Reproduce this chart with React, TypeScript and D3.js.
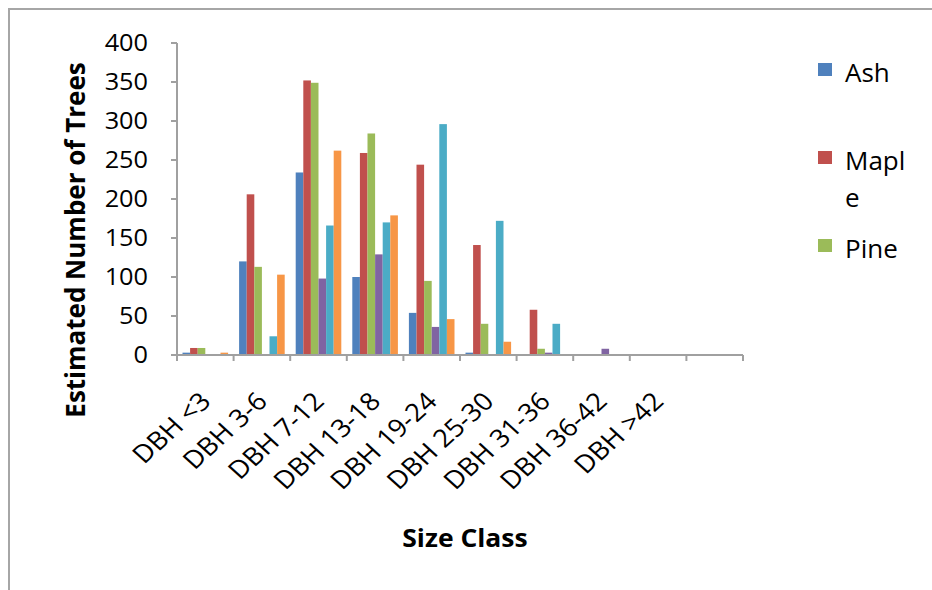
import React from "react";
import * as d3 from "d3";

const categories = ["DBH <3", "DBH 3-6", "DBH 7-12", "DBH 13-18", "DBH 19-24", "DBH 25-30", "DBH 31-36", "DBH 36-42", "DBH >42", ""];
const seriesNames = ["Ash", "Maple", "Pine", "Series 4", "Series 5", "Series 6"];
const ash = [3, 120, 234, 100, 54, 3, 0, 0, 0, 0];
const maple = [9, 206, 352, 259, 244, 141, 58, 0, 0, 0];
const pine = [9, 113, 349, 284, 95, 40, 8, 0, 0, 0];
const series4 = [0, 0, 98, 129, 36, 0, 3, 8, 0, 0];
const series5 = [0, 24, 166, 170, 296, 172, 40, 0, 0, 0];
const series6 = [3, 103, 262, 179, 46, 17, 0, 0, 0, 0];
const yTicks = [0, 50, 100, 150, 200, 250, 300, 350, 400];
const colors = ["#4F81BD", "#C0504D", "#9BBB59", "#8064A2", "#4BACC6", "#F79646"];
const legendShown = ["Ash", "Maple", "Pine"];

const allSeries = [ash, maple, pine, series4, series5, series6];
const FONT = "'Open Sans', 'Liberation Sans', sans-serif";

export default function App() {
  const W = 932, H = 590;
  const x0 = d3.scaleBand<string>().domain(categories.map((c, i) => String(i))).range([177, 743]).padding(0);
  const x1 = d3.scaleBand<string>().domain(seriesNames).range([5.5, x0.bandwidth() - 5.5]).padding(0);
  const y = d3.scaleLinear().domain([0, 400]).range([355, 43]);
  const axisColor = "#a0a0a0";
  const tickXs = categories.map((_, i) => x0(String(i))!).concat([743]);

  return (
    <svg width={W} height={H} style={{ position: "absolute", left: 0, top: 0, background: "#fff" }} fontFamily={FONT}>
      <rect x={0} y={0} width={W} height={H} fill="#fff" />
      <path d={`M9,${H} V9 H${W}`} fill="none" stroke="#a6a6a6" strokeWidth={2} />
      {/* bars */}
      {allSeries.map((vals, si) =>
        vals.map((v, ci) =>
          v > 0 ? (
            <rect
              key={`${si}-${ci}`}
              x={x0(String(ci))! + x1(seriesNames[si])!}
              y={y(v)}
              width={x1.bandwidth()}
              height={y(0) - y(v)}
              fill={colors[si]}
            />
          ) : null
        )
      )}
      {/* y axis */}
      <line x1={177} x2={177} y1={y(400)} y2={y(0)} stroke={axisColor} strokeWidth={2} />
      {yTicks.map((t) => (
        <g key={t}>
          <line x1={171} x2={177} y1={y(t)} y2={y(t)} stroke={axisColor} strokeWidth={2} />
          <text
            transform={`translate(148,${y(t)}) scale(1.1,1)`}
            dy="0.36em"
            textAnchor="end"
            fontSize={23}
            fill="#000"
          >
            {t}
          </text>
        </g>
      ))}
      {/* x axis */}
      <line x1={177} x2={743} y1={y(0)} y2={y(0)} stroke={axisColor} strokeWidth={2} />
      {tickXs.map((tx, i) => (
        <line key={i} x1={tx} x2={tx} y1={y(0)} y2={y(0) + 6} stroke={axisColor} strokeWidth={2} />
      ))}
      {categories.map((c, i) =>
        c ? (
          <text
            key={c}
            transform={`translate(${x0(String(i))! + x0.bandwidth() / 2 + 7},403) scale(1.1,1) rotate(-45)`}
            textAnchor="end"
            fontSize={25}
            fill="#000"
          >
            {c}
          </text>
        ) : null
      )}
      {/* axis titles */}
      <text
        transform="translate(465,547) scale(1.06,1)"
        textAnchor="middle"
        fontSize={25}
        fontWeight="bold"
        fill="#000"
      >
        Size Class
      </text>
      <text
        transform="translate(85,240) rotate(-90)"
        textAnchor="middle"
        fontSize={26}
        fontWeight="bold"
        fill="#000"
      >
        Estimated Number of Trees
      </text>
      {/* legend */}
      {legendShown.map((name, i) => {
        const by = 82 + i * 88;
        return (
          <g key={name}>
            <rect x={818} y={by - 19} width={14} height={13} fill={colors[i]} />
            {name === "Maple" ? (
              <text x={845} y={by} fontSize={26} fill="#000">
                <tspan x={845} y={by}>Mapl</tspan>
                <tspan x={845} y={by + 37}>e</tspan>
              </text>
            ) : (
              <text x={845} y={by} fontSize={26} fill="#000">
                {name}
              </text>
            )}
          </g>
        );
      })}
    </svg>
  );
}
